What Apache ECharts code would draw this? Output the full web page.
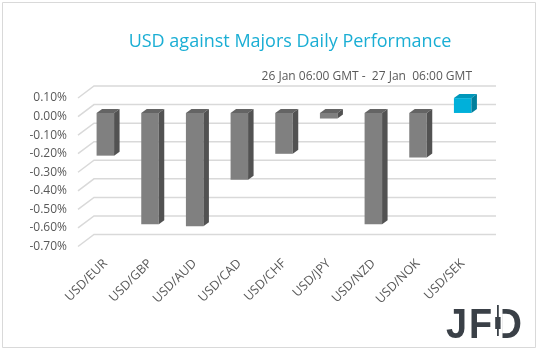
<!DOCTYPE html>
<html>
<head>
<meta charset="utf-8">
<script src="https://cdn.jsdelivr.net/npm/echarts@6/dist/echarts.min.js"></script>
<style>
  html, body { margin: 0; padding: 0; background: #fff; }
  #chart { width: 539px; height: 351px; }
</style>
</head>
<body>
<div id="chart"></div>
<script>
var categories = ['USD/EUR', 'USD/GBP', 'USD/AUD', 'USD/CAD', 'USD/CHF', 'USD/JPY', 'USD/NZD', 'USD/NOK', 'USD/SEK'];
var values = [-0.23, -0.60, -0.61, -0.36, -0.22, -0.03, -0.60, -0.24, 0.08];
var yTicks = [-0.7, -0.6, -0.5, -0.4, -0.3, -0.2, -0.1, 0, 0.1];

// 3d look: wall depth and bar placement inside it
var DEPTH = [16, -12];
var FACE = [5, -3.6];
var BAR_D = [5.5, -4];
var BAR_W = 17.5;

var myChart = echarts.init(document.getElementById('chart'));

function gridItem(params, api) {
  var cs = params.coordSys;
  var p = api.coord([0, api.value(0)]);
  var y = p[1];
  var x0 = cs.x, x1 = cs.x + cs.width;
  return {
    type: 'polyline',
    shape: { points: [[x0, y], [x0 + DEPTH[0], y + DEPTH[1]], [x1 + DEPTH[0], y + DEPTH[1]]] },
    style: { stroke: '#d9d9d9', lineWidth: 1.5, fill: null },
    silent: true
  };
}

function barItem(params, api) {
  var p0 = api.coord([api.value(0), 0]);
  var p1 = api.coord([api.value(0), api.value(1)]);
  var top = Math.min(p0[1], p1[1]) + FACE[1];
  var bot = Math.max(p0[1], p1[1]) + FACE[1];
  var L = p0[0] - BAR_W / 2 + FACE[0];
  var R = L + BAR_W;
  var pos = api.value(1) > 0;
  var c = pos ? ['#00b0da', '#0097ba', '#007f9c'] : ['#808080', '#646464', '#525252'];
  return {
    type: 'group',
    children: [
      {
        type: 'rect',
        shape: { x: L, y: top, width: BAR_W, height: Math.max(bot - top, 1) },
        style: { fill: c[0] }
      },
      {
        type: 'polygon',
        shape: { points: [[L, top], [R, top], [R + BAR_D[0], top + BAR_D[1]], [L + BAR_D[0], top + BAR_D[1]]] },
        style: { fill: c[1] }
      },
      {
        type: 'polygon',
        shape: { points: [[R, top], [R + BAR_D[0], top + BAR_D[1]], [R + BAR_D[0], bot + BAR_D[1]], [R, bot]] },
        style: { fill: c[2] }
      }
    ]
  };
}

var logoFont = 'bold 43px "Liberation Sans", Arial, sans-serif';

var option = {
  animation: false,
  title: [
    {
      text: 'USD against Majors Daily Performance',
      left: 285,
      top: 28,
      textAlign: 'center',
      textStyle: { color: '#1aaed4', fontSize: 18, fontWeight: 'normal', fontFamily: 'Open Sans' }
    },
    {
      text: '26 Jan 06:00 GMT -  27 Jan  06:00 GMT',
      right: 62,
      top: 66,
      textStyle: { color: '#595959', fontSize: 12, fontWeight: 'normal', fontFamily: 'Open Sans' }
    }
  ],
  grid: [
    { left: 78, right: 59, top: 98, bottom: 104.5 },
    // same plot shifted to where the bars sit, only used for the category labels
    { left: 83, right: 54, top: 98, bottom: 104.5 }
  ],
  xAxis: [
    {
      type: 'category',
      data: categories,
      gridIndex: 0,
      axisLine: { show: false },
      axisTick: { show: false },
      axisLabel: { show: false }
    },
    {
      type: 'category',
      data: categories,
      gridIndex: 1,
      axisLine: { show: false },
      axisTick: { show: false },
      axisLabel: { rotate: 45, margin: 15, color: '#595959', fontSize: 12.5, fontFamily: 'Open Sans' }
    }
  ],
  yAxis: [
    {
      type: 'value',
      gridIndex: 0,
      min: -0.7,
      max: 0.1,
      interval: 0.1,
      axisLine: { show: false },
      axisTick: { show: false },
      splitLine: { show: false },
      axisLabel: {
        margin: 11,
        color: '#595959',
        fontSize: 12,
        fontFamily: 'Open Sans',
        formatter: function (v) { return (Math.abs(v) < 1e-9 ? 0 : v).toFixed(2) + '%'; }
      }
    },
    {
      type: 'value',
      gridIndex: 1,
      min: -0.7,
      max: 0.1,
      interval: 0.1,
      show: false
    }
  ],
  graphic: [
    {
      type: 'rect',
      shape: { x: 2.5, y: 2.5, width: 533, height: 345 },
      style: { fill: null, stroke: '#d9d9d9', lineWidth: 1 },
      silent: true
    },
    {
      type: 'group',
      silent: true,
      children: [
        { type: 'text', x: 446, y: 305, scaleX: 0.88, style: { text: 'J', fill: '#3a4047', font: logoFont, textVerticalAlign: 'top' } },
        { type: 'text', x: 469, y: 305, scaleX: 0.88, style: { text: 'F', fill: '#3a4047', font: logoFont, textVerticalAlign: 'top' } },
        { type: 'text', x: 494, y: 305, scaleX: 0.9, style: { text: 'D', fill: '#3a4047', font: logoFont, textVerticalAlign: 'top' } },
        { type: 'rect', shape: { x: 493, y: 300, width: 9.5, height: 40 }, style: { fill: '#fff' }, z: 10 },
        { type: 'rect', shape: { x: 497, y: 305, width: 1.8, height: 31 }, style: { fill: '#3a4047' }, z: 11 },
        { type: 'rect', shape: { x: 495.2, y: 317, width: 5.4, height: 12 }, style: { fill: '#3a4047' }, z: 11 }
      ]
    }
  ],
  series: [
    {
      type: 'custom',
      renderItem: gridItem,
      xAxisIndex: 0,
      yAxisIndex: 0,
      data: yTicks.map(function (v) { return [v]; }),
      z: 1
    },
    {
      type: 'custom',
      renderItem: barItem,
      xAxisIndex: 0,
      yAxisIndex: 0,
      data: values.map(function (v, i) { return [i, v]; }),
      z: 2
    }
  ]
};

myChart.setOption(option);
</script>
</body>
</html>
